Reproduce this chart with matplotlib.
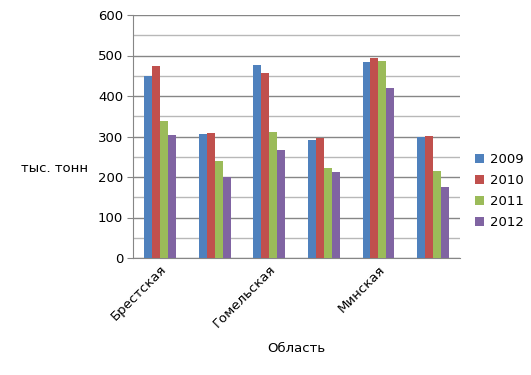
import numpy as np
import matplotlib.pyplot as plt

regions = ["Брестская", "Витебская", "Гомельская", "Гродненская", "Минская", "Могилевская"]
years = ["2009", "2010", "2011", "2012"]
v2009 = [449, 306, 476, 291, 484, 298]
v2010 = [475, 309, 457, 297, 494, 301]
v2011 = [338, 240, 311, 222, 486, 215]
v2012 = [304, 199, 267, 212, 420, 175]
colors = ["#4F81BD", "#C0504D", "#9BBB59", "#8064A2"]

fig = plt.figure(figsize=(5.31, 3.75), dpi=100)
ax = fig.add_axes([0.2505, 0.312, 0.616, 0.648])

x = np.arange(len(regions))
w = 0.145
series = [v2009, v2010, v2011, v2012]
for i, vals in enumerate(series):
    ax.bar(x + (i - 1.5) * w, vals, width=w, color=colors[i], label=years[i], zorder=3)

ax.set_xlim(-0.5, len(regions) - 0.5)
ax.set_ylim(0, 600)
ax.set_yticks(range(0, 601, 100))
ax.set_yticks(range(50, 600, 100), minor=True)
ax.grid(axis="y", which="major", color="#868686", linewidth=1, zorder=0)
ax.grid(axis="y", which="minor", color="#b8b8b8", linewidth=1, zorder=0)
ax.tick_params(axis="y", which="major", length=4, color="#868686", labelsize=9.5, pad=3)
ax.tick_params(axis="y", which="minor", length=0)
ax.tick_params(axis="x", length=0, labelsize=9.5)

ax.set_xticks(x[::2])
ax.set_xticklabels(regions[::2], rotation=45, ha="right", rotation_mode="anchor")
for s in ["top", "right"]:
    ax.spines[s].set_visible(False)
ax.spines["left"].set_color("#868686")
ax.spines["bottom"].set_color("#868686")

ax.set_xlabel("Область", fontsize=9.5, labelpad=8)
ax.set_ylabel("тыс. тонн", fontsize=9.5, rotation=0, ha="center", va="center")
ax.yaxis.set_label_coords(-0.24, 0.37)

ax.legend(loc="center left", bbox_to_anchor=(1.01, 0.275), frameon=False,
          fontsize=9.5, handlelength=0.7, handleheight=0.7, handletextpad=0.4,
          labelspacing=0.6)

fig.savefig("out.png", dpi=100)
